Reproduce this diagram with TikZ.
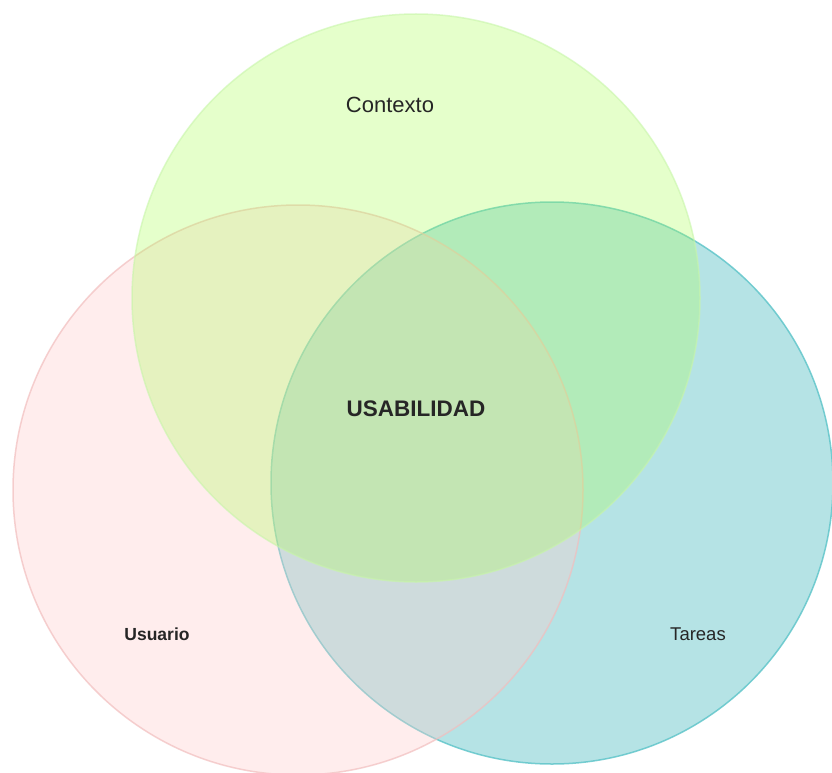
\documentclass[tikz,border=0pt]{standalone}
\usepackage{fontspec}
\setmainfont{Liberation Sans}
\definecolor{pinkfill}{RGB}{255,206,206}
\definecolor{pinkedge}{RGB}{242,190,190}
\definecolor{tealfill}{RGB}{109,201,205}
\definecolor{tealedge}{RGB}{90,195,200}
\definecolor{greenfill}{RGB}{172,255,85}
\definecolor{greenedge}{RGB}{200,245,170}
\tikzset{
  venn/.style={circle, inner sep=0pt, line width=1.5pt},
  lbl/.style={text opacity=1, inner sep=0pt, text=black!85}
}
\begin{document}
\begin{tikzpicture}[x=1pt,y=-1pt]
\useasboundingbox (0,0) rectangle (832,773);
\fill[white] (0,0) rectangle (832,773);
\node[venn, minimum size=562pt, fill=tealfill, fill opacity=0.5, draw=tealedge, draw opacity=0.8] (tareas) at (552,483) {};
\node[venn, minimum size=570pt, fill=pinkfill, fill opacity=0.35, draw=pinkedge, draw opacity=0.7] (usuario) at (298,490) {};
\node[venn, minimum size=568pt, fill=greenfill, fill opacity=0.3, draw=greenedge, draw opacity=0.6] (contexto) at (416,298) {};
\node[lbl, font=\fontsize{22}{26}\selectfont] (tcontexto) at (390,105) {Contexto};
\node[lbl, font=\fontsize{22.5}{26}\selectfont\bfseries] (tusab) at (416,409) {USABILIDAD};
\node[lbl, font=\fontsize{17.5}{21}\selectfont\bfseries] (tusuario) at (157,634) {Usuario};
\node[lbl, font=\fontsize{18.5}{22}\selectfont] (ttareas) at (698,634) {Tareas};
\end{tikzpicture}
\end{document}
